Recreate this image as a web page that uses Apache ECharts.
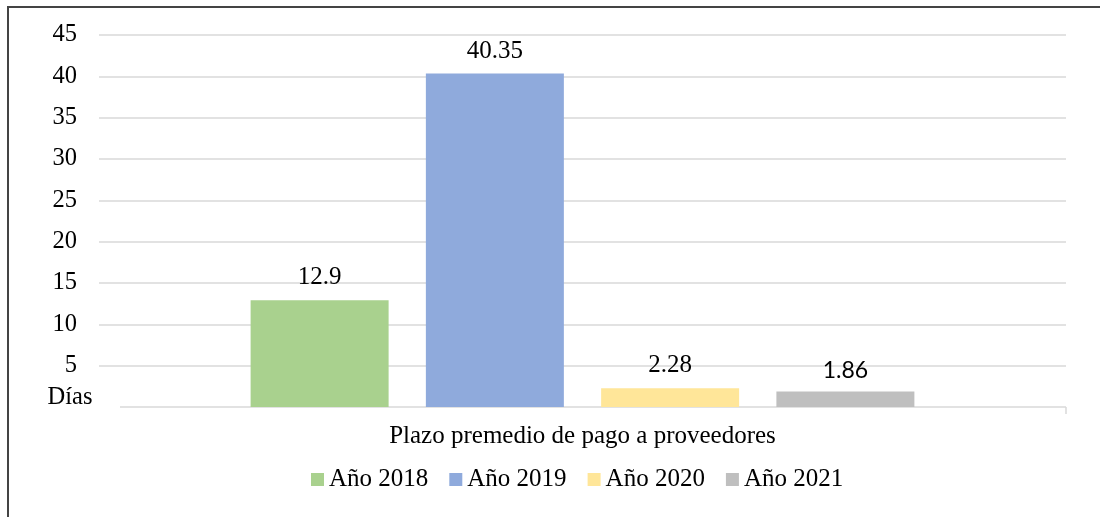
<!DOCTYPE html>
<html><head><meta charset="utf-8">
<script src="https://cdn.jsdelivr.net/npm/echarts@6/dist/echarts.min.js"></script>
<style>html,body{margin:0;padding:0;background:#fff}#c{width:1100px;height:517px}</style>
</head><body><div id="c"></div>
<script>
const categories = ['Plazo premedio de pago a proveedores'];
const seriesNames = ['Año 2018', 'Año 2019', 'Año 2020', 'Año 2021'];
const v2018 = [12.9];
const v2019 = [40.35];
const v2020 = [2.28];
const v2021 = [1.86];
const yMin = 0, yMax = 45, yStep = 5;
const zeroLabel = 'Días';

const colors = ['#A9D18E', '#8FAADC', '#FFE699', '#BFBFBF'];
const serif = '"Liberation Serif", "Times New Roman", serif';
const sans = 'Lato, "Open Sans", sans-serif';
const GRID = {left: 99, right: 34, top: 35, bottom: 110};

const values = [v2018, v2019, v2020, v2021];
const labelFonts = [serif, serif, serif, sans];
const labelSizes = [25, 25, 25, 23];

const chart = echarts.init(document.getElementById('c'), null, {renderer: 'canvas'});
const series = seriesNames.map((n, i) => ({
  name: n,
  type: 'bar',
  data: values[i],
  barWidth: 138,
  barGap: '27%',
  itemStyle: {color: colors[i]},
  label: {
    show: true, position: 'top', distance: 10,
    color: '#000', fontFamily: labelFonts[i], fontSize: labelSizes[i]
  }
}));

chart.setOption({
  animation: false,
  backgroundColor: '#fff',
  grid: GRID,
  xAxis: {
    type: 'category', data: categories,
    axisLine: {show: false}, axisTick: {show: false},
    axisLabel: {color: '#000', fontFamily: serif, fontSize: 25, margin: 17}
  },
  yAxis: {
    type: 'value', min: yMin, max: yMax, interval: yStep,
    axisLine: {show: false}, axisTick: {show: false},
    splitLine: {show: true, showMinLine: false, lineStyle: {color: '#D9D9D9', width: 1.5}},
    axisLabel: {color: '#000', fontFamily: serif, fontSize: 24.5, margin: 22,
      formatter: v => v === yMin ? '' : String(v)}
  },
  legend: {
    data: seriesNames, left: 311, top: 467, padding: 0,
    icon: 'rect', itemWidth: 13, itemHeight: 13, itemGap: 21,
    textStyle: {color: '#000', fontFamily: serif, fontSize: 25}
  },
  series: series
});

const y0 = chart.convertToPixel({yAxisIndex: 0}, yMin);
const xRight = 1100 - GRID.right;
chart.setOption({
  graphic: [
    {type: 'rect', shape: {x: 8, y: 7, width: 1200, height: 600},
     style: {fill: 'none', stroke: '#444', lineWidth: 2}, silent: true},
    {type: 'line', shape: {x1: GRID.left + 21, y1: y0, x2: xRight, y2: y0},
     style: {stroke: '#D9D9D9', lineWidth: 1.5}, silent: true},
    {type: 'line', shape: {x1: xRight, y1: y0, x2: xRight, y2: y0 + 7},
     style: {stroke: '#D9D9D9', lineWidth: 1.5}, silent: true},
    {type: 'text', x: 70, y: y0 - 9,
     style: {text: zeroLabel, fill: '#000', font: '24.5px ' + serif, align: 'center', verticalAlign: 'middle'}, silent: true}
  ]
});
</script></body></html>
